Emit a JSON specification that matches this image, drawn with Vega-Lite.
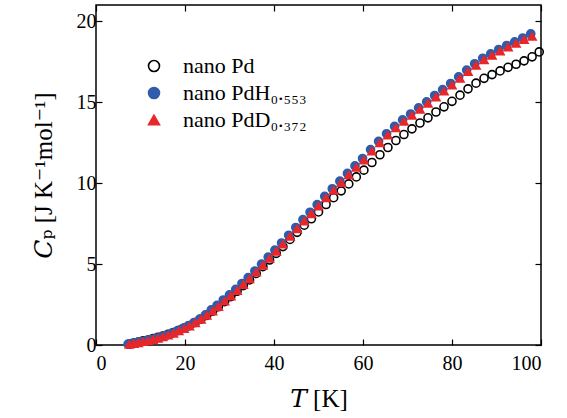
{
  "$schema": "https://vega.github.io/schema/vega-lite/v6.json",
  "autosize": "none",
  "width": 445,
  "height": 340,
  "padding": {"left": 96, "top": 5, "right": 26, "bottom": 73},
  "background": "white",
  "config": {
    "view": {"stroke": "black", "strokeWidth": 1.5},
    "font": "Liberation Serif",
    "axis": {"labelFont": "Liberation Serif", "titleFont": "Liberation Serif, DejaVu Serif, serif", "labelColor": "black", "titleColor": "black", "grid": false, "domain": false, "tickColor": "black", "tickWidth": 1.2, "tickSize": -6, "labelFontSize": 20, "titleFontSize": 25, "titleFontWeight": "normal"}
  },
  "datasets": {
    "pts": [
      {"series": "nano Pd", "T": 7.5, "Cp": 0.05}, {"series": "nano Pd", "T": 8.5, "Cp": 0.12}, {"series": "nano Pd", "T": 9.5, "Cp": 0.18}, {"series": "nano Pd", "T": 10.6, "Cp": 0.25}, {"series": "nano Pd", "T": 11.7, "Cp": 0.31}, {"series": "nano Pd", "T": 12.8, "Cp": 0.39}, {"series": "nano Pd", "T": 13.9, "Cp": 0.47}, {"series": "nano Pd", "T": 15.0, "Cp": 0.55}, {"series": "nano Pd", "T": 16.2, "Cp": 0.66}, {"series": "nano Pd", "T": 17.4, "Cp": 0.77}, {"series": "nano Pd", "T": 18.6, "Cp": 0.91}, {"series": "nano Pd", "T": 19.8, "Cp": 1.05}, {"series": "nano Pd", "T": 21.0, "Cp": 1.2}, {"series": "nano Pd", "T": 22.3, "Cp": 1.39}, {"series": "nano Pd", "T": 23.6, "Cp": 1.6}, {"series": "nano Pd", "T": 24.9, "Cp": 1.83}, {"series": "nano Pd", "T": 26.2, "Cp": 2.09}, {"series": "nano Pd", "T": 27.5, "Cp": 2.36}, {"series": "nano Pd", "T": 28.9, "Cp": 2.68}, {"series": "nano Pd", "T": 30.3, "Cp": 2.99}, {"series": "nano Pd", "T": 31.7, "Cp": 3.32}, {"series": "nano Pd", "T": 33.1, "Cp": 3.67}, {"series": "nano Pd", "T": 34.5, "Cp": 4.02}, {"series": "nano Pd", "T": 36.0, "Cp": 4.42}, {"series": "nano Pd", "T": 37.5, "Cp": 4.84}, {"series": "nano Pd", "T": 39.0, "Cp": 5.25}, {"series": "nano Pd", "T": 40.5, "Cp": 5.66}, {"series": "nano Pd", "T": 42.0, "Cp": 6.08}, {"series": "nano Pd", "T": 43.6, "Cp": 6.52}, {"series": "nano Pd", "T": 45.2, "Cp": 6.96}, {"series": "nano Pd", "T": 46.8, "Cp": 7.4}, {"series": "nano Pd", "T": 48.4, "Cp": 7.8}, {"series": "nano Pd", "T": 50.0, "Cp": 8.22}, {"series": "nano Pd", "T": 51.7, "Cp": 8.68}, {"series": "nano Pd", "T": 53.4, "Cp": 9.1}, {"series": "nano Pd", "T": 55.1, "Cp": 9.52}, {"series": "nano Pd", "T": 56.8, "Cp": 9.95}, {"series": "nano Pd", "T": 58.5, "Cp": 10.38}, {"series": "nano Pd", "T": 60.2, "Cp": 10.8}, {"series": "nano Pd", "T": 62.0, "Cp": 11.27}, {"series": "nano Pd", "T": 63.8, "Cp": 11.75}, {"series": "nano Pd", "T": 65.6, "Cp": 12.2}, {"series": "nano Pd", "T": 67.4, "Cp": 12.63}, {"series": "nano Pd", "T": 69.2, "Cp": 13.0}, {"series": "nano Pd", "T": 71.0, "Cp": 13.35}, {"series": "nano Pd", "T": 72.8, "Cp": 13.71}, {"series": "nano Pd", "T": 74.6, "Cp": 14.03}, {"series": "nano Pd", "T": 76.4, "Cp": 14.39}, {"series": "nano Pd", "T": 78.2, "Cp": 14.71}, {"series": "nano Pd", "T": 80.0, "Cp": 15.05}, {"series": "nano Pd", "T": 81.8, "Cp": 15.43}, {"series": "nano Pd", "T": 83.6, "Cp": 15.82}, {"series": "nano Pd", "T": 85.4, "Cp": 16.17}, {"series": "nano Pd", "T": 87.2, "Cp": 16.47}, {"series": "nano Pd", "T": 89.0, "Cp": 16.7}, {"series": "nano Pd", "T": 90.8, "Cp": 16.93}, {"series": "nano Pd", "T": 92.6, "Cp": 17.15}, {"series": "nano Pd", "T": 94.4, "Cp": 17.34}, {"series": "nano Pd", "T": 96.2, "Cp": 17.55}, {"series": "nano Pd", "T": 98.0, "Cp": 17.8}, {"series": "nano Pd", "T": 99.6, "Cp": 18.1},
      {"series": "nano PdH₀.₅₅₃", "T": 7.2, "Cp": 0.05}, {"series": "nano PdH₀.₅₅₃", "T": 8.2, "Cp": 0.1}, {"series": "nano PdH₀.₅₅₃", "T": 9.2, "Cp": 0.15}, {"series": "nano PdH₀.₅₅₃", "T": 10.3, "Cp": 0.22}, {"series": "nano PdH₀.₅₅₃", "T": 11.4, "Cp": 0.28}, {"series": "nano PdH₀.₅₅₃", "T": 12.5, "Cp": 0.35}, {"series": "nano PdH₀.₅₅₃", "T": 13.6, "Cp": 0.43}, {"series": "nano PdH₀.₅₅₃", "T": 14.7, "Cp": 0.51}, {"series": "nano PdH₀.₅₅₃", "T": 15.9, "Cp": 0.62}, {"series": "nano PdH₀.₅₅₃", "T": 17.1, "Cp": 0.74}, {"series": "nano PdH₀.₅₅₃", "T": 18.3, "Cp": 0.88}, {"series": "nano PdH₀.₅₅₃", "T": 19.5, "Cp": 1.02}, {"series": "nano PdH₀.₅₅₃", "T": 20.7, "Cp": 1.18}, {"series": "nano PdH₀.₅₅₃", "T": 22.0, "Cp": 1.38}, {"series": "nano PdH₀.₅₅₃", "T": 23.3, "Cp": 1.6}, {"series": "nano PdH₀.₅₅₃", "T": 24.6, "Cp": 1.86}, {"series": "nano PdH₀.₅₅₃", "T": 25.9, "Cp": 2.17}, {"series": "nano PdH₀.₅₅₃", "T": 27.2, "Cp": 2.45}, {"series": "nano PdH₀.₅₅₃", "T": 28.6, "Cp": 2.78}, {"series": "nano PdH₀.₅₅₃", "T": 30.0, "Cp": 3.1}, {"series": "nano PdH₀.₅₅₃", "T": 31.4, "Cp": 3.44}, {"series": "nano PdH₀.₅₅₃", "T": 32.8, "Cp": 3.8}, {"series": "nano PdH₀.₅₅₃", "T": 34.2, "Cp": 4.16}, {"series": "nano PdH₀.₅₅₃", "T": 35.7, "Cp": 4.57}, {"series": "nano PdH₀.₅₅₃", "T": 37.2, "Cp": 5.0}, {"series": "nano PdH₀.₅₅₃", "T": 38.7, "Cp": 5.43}, {"series": "nano PdH₀.₅₅₃", "T": 40.2, "Cp": 5.86}, {"series": "nano PdH₀.₅₅₃", "T": 41.7, "Cp": 6.3}, {"series": "nano PdH₀.₅₅₃", "T": 43.3, "Cp": 6.78}, {"series": "nano PdH₀.₅₅₃", "T": 44.9, "Cp": 7.26}, {"series": "nano PdH₀.₅₅₃", "T": 46.5, "Cp": 7.74}, {"series": "nano PdH₀.₅₅₃", "T": 48.1, "Cp": 8.2}, {"series": "nano PdH₀.₅₅₃", "T": 49.7, "Cp": 8.67}, {"series": "nano PdH₀.₅₅₃", "T": 51.4, "Cp": 9.18}, {"series": "nano PdH₀.₅₅₃", "T": 53.1, "Cp": 9.65}, {"series": "nano PdH₀.₅₅₃", "T": 54.8, "Cp": 10.12}, {"series": "nano PdH₀.₅₅₃", "T": 56.5, "Cp": 10.6}, {"series": "nano PdH₀.₅₅₃", "T": 58.2, "Cp": 11.06}, {"series": "nano PdH₀.₅₅₃", "T": 59.9, "Cp": 11.52}, {"series": "nano PdH₀.₅₅₃", "T": 61.7, "Cp": 12.07}, {"series": "nano PdH₀.₅₅₃", "T": 63.5, "Cp": 12.58}, {"series": "nano PdH₀.₅₅₃", "T": 65.3, "Cp": 13.05}, {"series": "nano PdH₀.₅₅₃", "T": 67.1, "Cp": 13.5}, {"series": "nano PdH₀.₅₅₃", "T": 68.9, "Cp": 13.9}, {"series": "nano PdH₀.₅₅₃", "T": 70.7, "Cp": 14.27}, {"series": "nano PdH₀.₅₅₃", "T": 72.5, "Cp": 14.65}, {"series": "nano PdH₀.₅₅₃", "T": 74.3, "Cp": 15.02}, {"series": "nano PdH₀.₅₅₃", "T": 76.1, "Cp": 15.41}, {"series": "nano PdH₀.₅₅₃", "T": 77.9, "Cp": 15.77}, {"series": "nano PdH₀.₅₅₃", "T": 79.7, "Cp": 16.15}, {"series": "nano PdH₀.₅₅₃", "T": 81.5, "Cp": 16.56}, {"series": "nano PdH₀.₅₅₃", "T": 83.3, "Cp": 16.98}, {"series": "nano PdH₀.₅₅₃", "T": 85.1, "Cp": 17.37}, {"series": "nano PdH₀.₅₅₃", "T": 86.9, "Cp": 17.71}, {"series": "nano PdH₀.₅₅₃", "T": 88.7, "Cp": 17.98}, {"series": "nano PdH₀.₅₅₃", "T": 90.5, "Cp": 18.25}, {"series": "nano PdH₀.₅₅₃", "T": 92.3, "Cp": 18.5}, {"series": "nano PdH₀.₅₅₃", "T": 94.1, "Cp": 18.72}, {"series": "nano PdH₀.₅₅₃", "T": 95.9, "Cp": 18.96}, {"series": "nano PdH₀.₅₅₃", "T": 97.7, "Cp": 19.22},
      {"series": "nano PdD₀.₃₇₂", "T": 7.5, "Cp": 0.03}, {"series": "nano PdD₀.₃₇₂", "T": 8.5, "Cp": 0.08}, {"series": "nano PdD₀.₃₇₂", "T": 9.5, "Cp": 0.13}, {"series": "nano PdD₀.₃₇₂", "T": 10.6, "Cp": 0.2}, {"series": "nano PdD₀.₃₇₂", "T": 11.7, "Cp": 0.26}, {"series": "nano PdD₀.₃₇₂", "T": 12.8, "Cp": 0.33}, {"series": "nano PdD₀.₃₇₂", "T": 13.9, "Cp": 0.41}, {"series": "nano PdD₀.₃₇₂", "T": 15.0, "Cp": 0.49}, {"series": "nano PdD₀.₃₇₂", "T": 16.2, "Cp": 0.6}, {"series": "nano PdD₀.₃₇₂", "T": 17.4, "Cp": 0.72}, {"series": "nano PdD₀.₃₇₂", "T": 18.6, "Cp": 0.86}, {"series": "nano PdD₀.₃₇₂", "T": 19.8, "Cp": 1.0}, {"series": "nano PdD₀.₃₇₂", "T": 21.0, "Cp": 1.16}, {"series": "nano PdD₀.₃₇₂", "T": 22.3, "Cp": 1.36}, {"series": "nano PdD₀.₃₇₂", "T": 23.6, "Cp": 1.58}, {"series": "nano PdD₀.₃₇₂", "T": 24.9, "Cp": 1.82}, {"series": "nano PdD₀.₃₇₂", "T": 26.2, "Cp": 2.09}, {"series": "nano PdD₀.₃₇₂", "T": 27.5, "Cp": 2.37}, {"series": "nano PdD₀.₃₇₂", "T": 28.9, "Cp": 2.7}, {"series": "nano PdD₀.₃₇₂", "T": 30.3, "Cp": 3.02}, {"series": "nano PdD₀.₃₇₂", "T": 31.7, "Cp": 3.36}, {"series": "nano PdD₀.₃₇₂", "T": 33.1, "Cp": 3.72}, {"series": "nano PdD₀.₃₇₂", "T": 34.5, "Cp": 4.08}, {"series": "nano PdD₀.₃₇₂", "T": 36.0, "Cp": 4.49}, {"series": "nano PdD₀.₃₇₂", "T": 37.5, "Cp": 4.92}, {"series": "nano PdD₀.₃₇₂", "T": 39.0, "Cp": 5.35}, {"series": "nano PdD₀.₃₇₂", "T": 40.5, "Cp": 5.78}, {"series": "nano PdD₀.₃₇₂", "T": 42.0, "Cp": 6.22}, {"series": "nano PdD₀.₃₇₂", "T": 43.6, "Cp": 6.7}, {"series": "nano PdD₀.₃₇₂", "T": 45.2, "Cp": 7.17}, {"series": "nano PdD₀.₃₇₂", "T": 46.8, "Cp": 7.65}, {"series": "nano PdD₀.₃₇₂", "T": 48.4, "Cp": 8.1}, {"series": "nano PdD₀.₃₇₂", "T": 50.0, "Cp": 8.57}, {"series": "nano PdD₀.₃₇₂", "T": 51.7, "Cp": 9.08}, {"series": "nano PdD₀.₃₇₂", "T": 53.4, "Cp": 9.55}, {"series": "nano PdD₀.₃₇₂", "T": 55.1, "Cp": 10.02}, {"series": "nano PdD₀.₃₇₂", "T": 56.8, "Cp": 10.5}, {"series": "nano PdD₀.₃₇₂", "T": 58.5, "Cp": 10.96}, {"series": "nano PdD₀.₃₇₂", "T": 60.2, "Cp": 11.42}, {"series": "nano PdD₀.₃₇₂", "T": 62.0, "Cp": 11.97}, {"series": "nano PdD₀.₃₇₂", "T": 63.8, "Cp": 12.48}, {"series": "nano PdD₀.₃₇₂", "T": 65.6, "Cp": 12.95}, {"series": "nano PdD₀.₃₇₂", "T": 67.4, "Cp": 13.4}, {"series": "nano PdD₀.₃₇₂", "T": 69.2, "Cp": 13.8}, {"series": "nano PdD₀.₃₇₂", "T": 71.0, "Cp": 14.17}, {"series": "nano PdD₀.₃₇₂", "T": 72.8, "Cp": 14.55}, {"series": "nano PdD₀.₃₇₂", "T": 74.6, "Cp": 14.92}, {"series": "nano PdD₀.₃₇₂", "T": 76.4, "Cp": 15.31}, {"series": "nano PdD₀.₃₇₂", "T": 78.2, "Cp": 15.67}, {"series": "nano PdD₀.₃₇₂", "T": 80.0, "Cp": 16.05}, {"series": "nano PdD₀.₃₇₂", "T": 81.8, "Cp": 16.46}, {"series": "nano PdD₀.₃₇₂", "T": 83.6, "Cp": 16.88}, {"series": "nano PdD₀.₃₇₂", "T": 85.4, "Cp": 17.27}, {"series": "nano PdD₀.₃₇₂", "T": 87.2, "Cp": 17.61}, {"series": "nano PdD₀.₃₇₂", "T": 89.0, "Cp": 17.88}, {"series": "nano PdD₀.₃₇₂", "T": 90.8, "Cp": 18.15}, {"series": "nano PdD₀.₃₇₂", "T": 92.6, "Cp": 18.4}, {"series": "nano PdD₀.₃₇₂", "T": 94.4, "Cp": 18.62}, {"series": "nano PdD₀.₃₇₂", "T": 96.2, "Cp": 18.86}, {"series": "nano PdD₀.₃₇₂", "T": 98.0, "Cp": 19.05}
    ]
  },
  "data": {"name": "pts"},
  "layer": [
    {
      "mark": {"type": "point", "size": 65, "strokeWidth": 1.6, "opacity": 1},
      "encoding": {
        "x": {"field": "T", "type": "quantitative", "scale": {"domain": [0, 100], "nice": false}, "axis": {"orient": "bottom", "values": [0, 20, 40, 60, 80, 100], "title": "𝑇 [K]", "labelPadding": 14, "titlePadding": 13}},
        "y": {"field": "Cp", "type": "quantitative", "scale": {"domain": [0, 21], "nice": false}, "axis": {"orient": "left", "values": [0, 5, 10, 15, 20], "title": "𝐶ₚ  [J K⁻¹mol⁻¹]", "labelPadding": 6, "titlePadding": 20}},
        "shape": {"field": "series", "type": "nominal", "scale": {"domain": ["nano Pd", "nano PdH₀.₅₅₃", "nano PdD₀.₃₇₂"], "range": ["circle", "circle", "triangle-up"]}, "legend": {"title": null, "orient": "none", "legendX": 47, "legendY": 50, "padding": 0, "symbolSize": 120, "symbolStrokeWidth": 1.6, "labelFont": "Liberation Serif", "labelFontSize": 22, "labelColor": "black", "labelOffset": 18, "rowPadding": 5}},
        "fill": {"field": "series", "type": "nominal", "scale": {"domain": ["nano Pd", "nano PdH₀.₅₅₃", "nano PdD₀.₃₇₂"], "range": ["transparent", "#2f5cab", "#e8272b"]}},
        "stroke": {"field": "series", "type": "nominal", "scale": {"domain": ["nano Pd", "nano PdH₀.₅₅₃", "nano PdD₀.₃₇₂"], "range": ["black", "#2f5cab", "#e8272b"]}}
      }
    },
    {
      "mark": {"type": "point", "opacity": 0},
      "encoding": {
        "x": {"field": "T", "type": "quantitative", "axis": {"orient": "top", "values": [0, 20, 40, 60, 80, 100], "labels": false, "title": null}},
        "y": {"field": "Cp", "type": "quantitative", "axis": {"orient": "right", "values": [0, 5, 10, 15, 20], "labels": false, "title": null}}
      }
    }
  ],
  "resolve": {"axis": {"x": "independent", "y": "independent"}}
}
